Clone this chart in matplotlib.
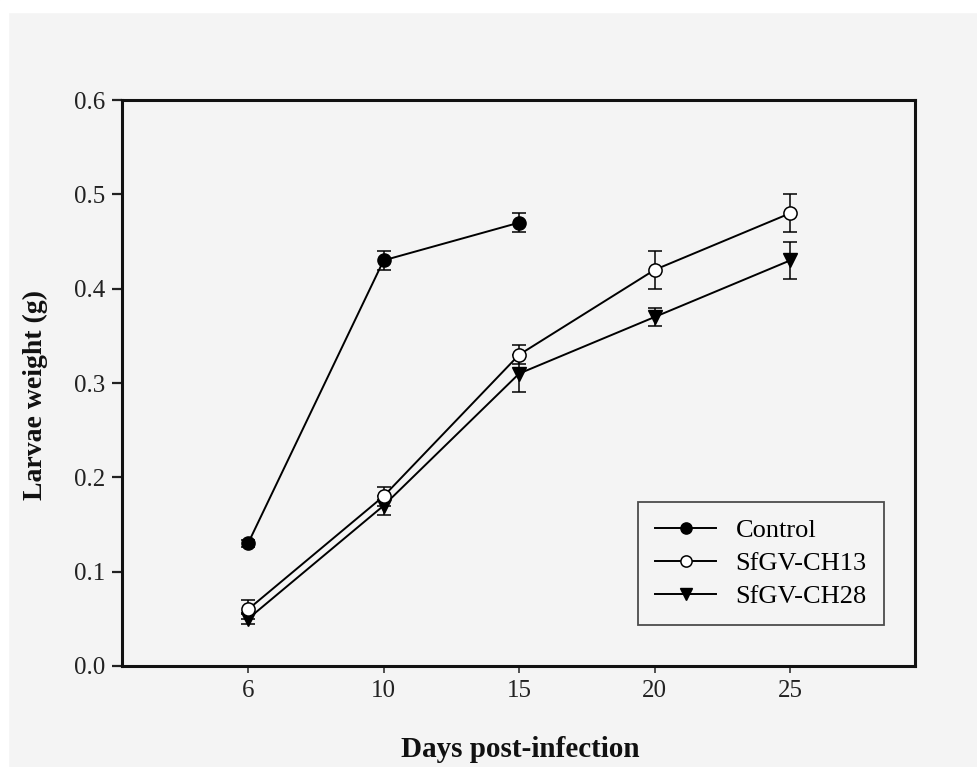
import matplotlib
matplotlib.use("Agg")
import matplotlib.pyplot as plt
from matplotlib.patches import Rectangle

days = ["6", "10", "15", "20", "25"]
control = [0.13, 0.43, 0.47]
control_err = [0.004, 0.01, 0.01]
ch13 = [0.06, 0.18, 0.33, 0.42, 0.48]
ch13_err = [0.01, 0.01, 0.01, 0.02, 0.02]
ch28 = [0.05, 0.17, 0.31, 0.37, 0.43]
ch28_err = [0.005, 0.01, 0.02, 0.01, 0.02]

plt.rcParams['font.family'] = ['Liberation Serif', 'DejaVu Serif']
bg = '#f4f4f4'
fig = plt.figure(figsize=(9.77, 7.67), dpi=100, facecolor=bg)
# white margin at top and left like the scanned figure
fig.patches.append(Rectangle((0, 1 - 12/767), 1, 12/767, transform=fig.transFigure, color='white', zorder=0))
fig.patches.append(Rectangle((0, 0), 8/977, 1, transform=fig.transFigure, color='white', zorder=0))

ax = fig.add_axes([122/977, 1 - 666/767, (915-122)/977, (666-100)/767])
ax.set_facecolor(bg)

x = list(range(len(days)))
common = dict(color='black', lw=1.4, capsize=4.8, capthick=1.1, elinewidth=1.1, markersize=9.5)
e1 = ax.errorbar(x[:len(control)], control, yerr=control_err, marker='o', mfc='black', mec='black',
                 label='Control', zorder=5, **common)
e2 = ax.errorbar(x, ch13, yerr=ch13_err, marker='o', mfc='white', mec='black', mew=1.1,
                 label='SfGV-CH13', zorder=4, **common)
e3 = ax.errorbar(x, ch28, yerr=ch28_err, marker='v', mfc='black', mec='black',
                 label='SfGV-CH28', zorder=3, **common)

ax.set_xlim(-0.93, 4.92)
ax.set_ylim(0, 0.6)
ax.set_xticks(x)
ax.set_xticklabels(days)
yt = [0.0, 0.1, 0.2, 0.3, 0.4, 0.5, 0.6]
ax.set_yticks(yt)
ax.set_yticklabels([f"{v:.1f}" for v in yt])
ax.tick_params(axis='y', direction='out', length=7, width=1.6, labelsize=18, pad=5, colors='#222222')
ax.tick_params(axis='x', direction='out', length=5, width=1.1, labelsize=18, pad=5, colors='#222222')
for s in ax.spines.values():
    s.set_linewidth(2.2)
    s.set_color('#111111')

ax.set_xlabel('Days post-infection', fontsize=21, fontweight='bold', color='#111111')
ax.set_ylabel('Larvae weight (g)', fontsize=20, fontweight='bold', color='#111111')
ax.xaxis.set_label_coords((520-122)/793, (666-736)/566)
ax.yaxis.set_label_coords((48-122)/793, (666-395)/566)

leg = ax.legend([e1[0], e2[0], e3[0]], ['Control', 'SfGV-CH13', 'SfGV-CH28'],
                loc='lower right', bbox_to_anchor=(0.961, 0.072), fontsize=19,
                frameon=True, fancybox=False, handlelength=2.3, borderpad=0.65,
                labelspacing=0.36, handletextpad=0.75, borderaxespad=0, markerscale=0.85)
leg.get_frame().set_edgecolor('#222222')
leg.get_frame().set_facecolor(bg)
leg.get_frame().set_linewidth(1.3)

fig.savefig('out.png', dpi=100, facecolor=bg)
